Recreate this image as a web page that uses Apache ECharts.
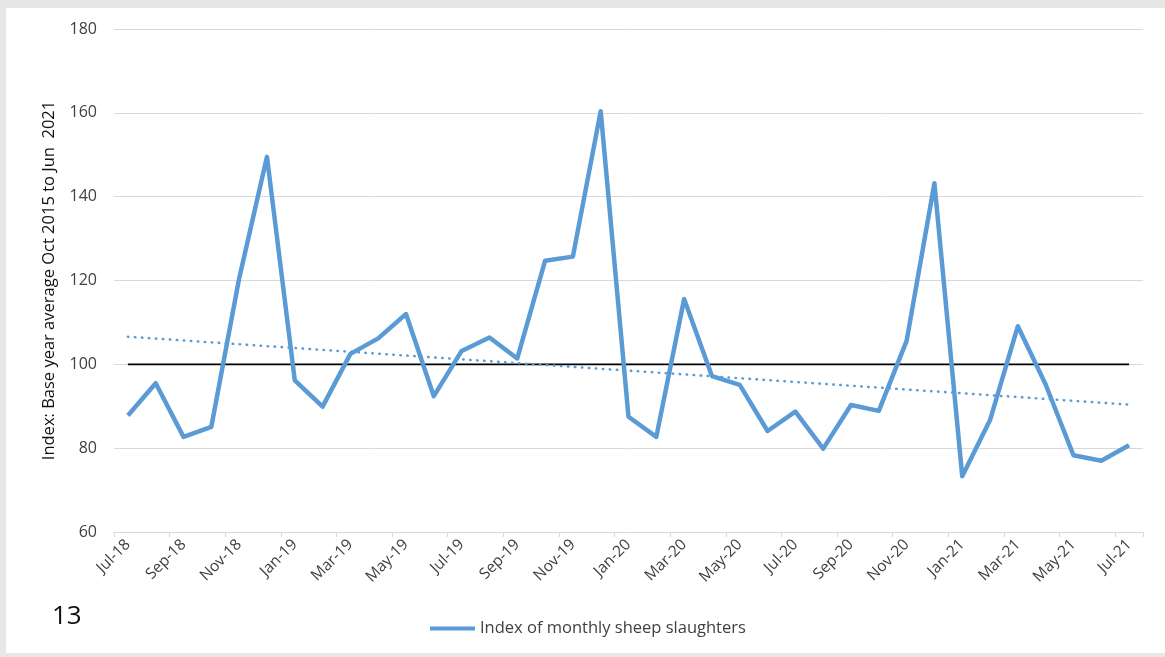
<!DOCTYPE html>
<html>
<head>
<meta charset="utf-8">
<script src="https://cdn.jsdelivr.net/npm/echarts@6/dist/echarts.min.js"></script>
<style>
html,body{margin:0;padding:0;background:#e7e7e7;width:1165px;height:657px;overflow:hidden;}
#c{position:absolute;left:6px;top:8px;width:1159px;height:645px;background:#ffffff;}
</style>
</head>
<body>
<div id="c"></div>
<script>
const categories = ['Jul-18','Aug-18','Sep-18','Oct-18','Nov-18','Dec-18','Jan-19','Feb-19','Mar-19','Apr-19','May-19','Jun-19',
  'Jul-19','Aug-19','Sep-19','Oct-19','Nov-19','Dec-19','Jan-20','Feb-20','Mar-20','Apr-20','May-20','Jun-20',
  'Jul-20','Aug-20','Sep-20','Oct-20','Nov-20','Dec-20','Jan-21','Feb-21','Mar-21','Apr-21','May-21','Jun-21','Jul-21'];
const slaughterIndex = [87.8, 95.5, 82.7, 85.1, 120.5, 149.5, 96.2, 89.9, 102.5, 106.2, 112.0, 92.4,
  103.2, 106.4, 101.4, 124.7, 125.7, 160.4, 87.5, 82.7, 115.6, 97.2, 95.1, 84.1,
  88.7, 79.9, 90.3, 88.9, 105.6, 143.2, 73.3, 86.7, 109.1, 95.2, 78.3, 77.0, 80.7];
const baseValue = 100;
const trendStart = 106.6;
const trendEnd = 90.4;
const seriesName = 'Index of monthly sheep slaughters';
const yAxisName = 'Index: Base year average Oct 2015 to Jun  2021';
const pageNumber = '13';

const first = categories[0], last = categories[categories.length - 1];
const chart = echarts.init(document.getElementById('c'));
const txt = '#404040';
const font = 'Open Sans';
chart.setOption({
  animation: false,
  textStyle: { fontFamily: font },
  grid: { left: 108, top: 21, right: 22, bottom: 121, containLabel: false },
  legend: {
    data: [seriesName],
    left: 419, top: 607,
    icon: 'rect', itemWidth: 45, itemHeight: 4, itemGap: 4,
    textStyle: { fontSize: 16.5, color: txt, fontFamily: font }
  },
  graphic: [{
    type: 'text', left: 46, top: 596,
    style: { text: pageNumber, fontSize: 26, fill: '#111', fontFamily: font }
  }],
  xAxis: {
    type: 'category',
    data: categories,
    boundaryGap: true,
    axisLine: { lineStyle: { color: '#d9d9d9', width: 1 } },
    axisTick: { show: true, interval: 1, length: 5, lineStyle: { color: '#d9d9d9' } },
    axisLabel: { interval: 1, rotate: 45, fontSize: 15.5, color: txt, margin: 10, fontFamily: font },
    splitLine: { show: false }
  },
  yAxis: {
    type: 'value',
    min: 60, max: 180, interval: 20,
    name: yAxisName,
    nameLocation: 'middle',
    nameGap: 56,
    nameTextStyle: { fontSize: 16.5, color: '#111', fontFamily: font },
    axisLine: { show: false },
    axisTick: { show: false },
    axisLabel: { fontSize: 16, color: txt, margin: 17, fontFamily: font },
    splitLine: { lineStyle: { color: '#d9d9d9', width: 1 } }
  },
  series: [
    {
      name: 'Base', type: 'line', silent: true, symbol: 'none',
      data: [[first, baseValue], [last, baseValue]],
      lineStyle: { color: '#000000', width: 1.6 }, z: 2
    },
    {
      name: 'Trend', type: 'line', silent: true, symbol: 'none',
      data: [[first, trendStart], [last, trendEnd]],
      lineStyle: { color: '#5b9bd5', width: 2.5, type: [0.5, 6.5], cap: 'round' }, z: 3
    },
    {
      name: seriesName, type: 'line', symbol: 'none',
      data: slaughterIndex,
      lineStyle: { color: '#5b9bd5', width: 4.5, join: 'round' },
      itemStyle: { color: '#5b9bd5' }, z: 4
    }
  ]
});
</script>
</body>
</html>
